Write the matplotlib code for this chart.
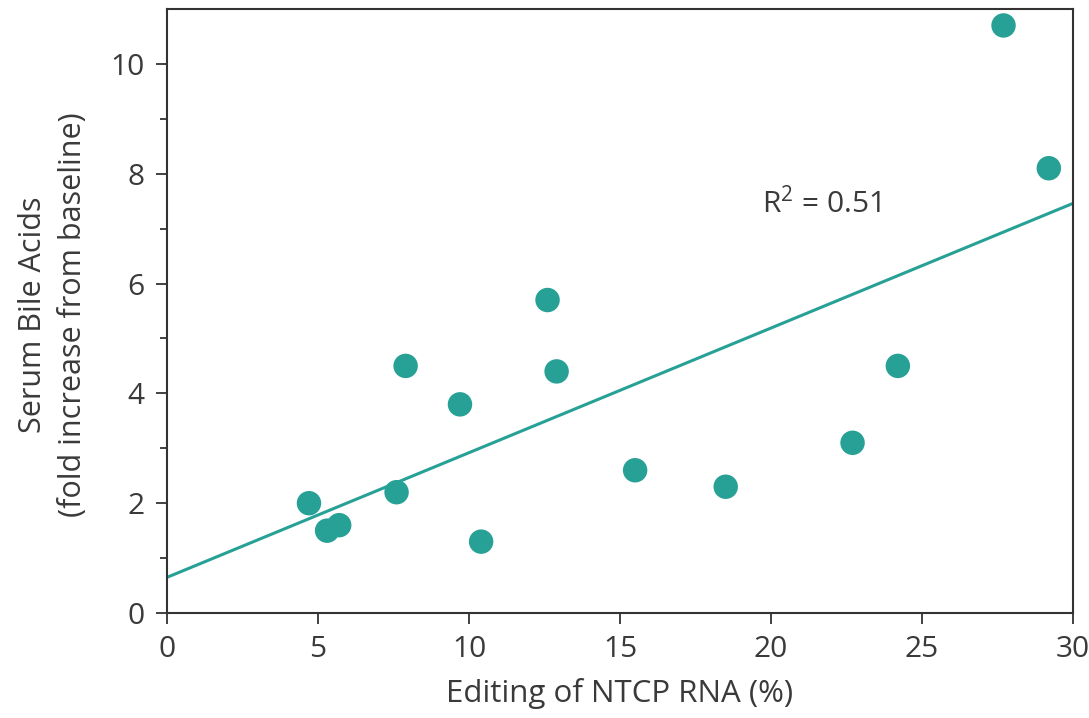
import matplotlib
matplotlib.use("Agg")
import matplotlib.pyplot as plt
import numpy as np

plt.rcParams['font.family'] = ['Open Sans', 'DejaVu Sans']
plt.rcParams['mathtext.fontset'] = 'custom'
plt.rcParams['mathtext.rm'] = 'Open Sans'

editing = [27.7, 29.2, 12.6, 7.9, 12.9, 9.7, 24.2, 22.7, 15.5, 18.5, 7.6, 4.7, 5.3, 5.7, 10.4]
bile = [10.7, 8.1, 5.7, 4.5, 4.4, 3.8, 4.5, 3.1, 2.6, 2.3, 2.2, 2.0, 1.5, 1.6, 1.3]
fit_intercept = 0.65
fit_slope = 0.227
r2_text = "R$^2$ = 0.51"

teal = '#27a196'
txt = '#3a3a3a'
fs = 21.5

fig = plt.figure(figsize=(10.89, 7.18), dpi=100)
ax = fig.add_axes([0.1534, 0.1462, 0.8319, 0.8413])

xs = np.array([0, 30])
ax.plot(xs, fit_intercept + fit_slope * xs, color=teal, lw=2.2, zorder=2, clip_on=True)
ax.scatter(editing, bile, s=310, color=teal, edgecolors='none', zorder=3, clip_on=False)

ax.set_xlim(0, 30)
ax.set_ylim(0, 11)
ax.set_xticks([0, 5, 10, 15, 20, 25, 30])
ax.set_yticks([0, 2, 4, 6, 8, 10])
ax.set_yticks([1, 3, 5, 7, 9], minor=True)

for s in ax.spines.values():
    s.set_color('#333333')
    s.set_linewidth(1.5)

ax.tick_params(axis='both', which='major', direction='out', length=8, width=1.3,
               color='#333333', labelsize=fs, labelcolor=txt)
ax.tick_params(axis='x', which='major', pad=8)
ax.tick_params(axis='y', which='major', pad=8)
ax.tick_params(axis='y', which='minor', direction='out', length=5, width=1.3, color='#333333')

ax.set_xlabel("Editing of NTCP RNA (%)", fontsize=22.5, color=txt, labelpad=10)
fig.text(53 / 1089, 1 - 315 / 718, "Serum Bile Acids\n(fold increase from baseline)",
         fontsize=22, color=txt, rotation=90, ha='center', va='center',
         multialignment='center', linespacing=1.42)

ax.text(19.7, 7.45, r2_text, fontsize=fs, color=txt, va='center', ha='left')

fig.savefig("out.png", dpi=100)
